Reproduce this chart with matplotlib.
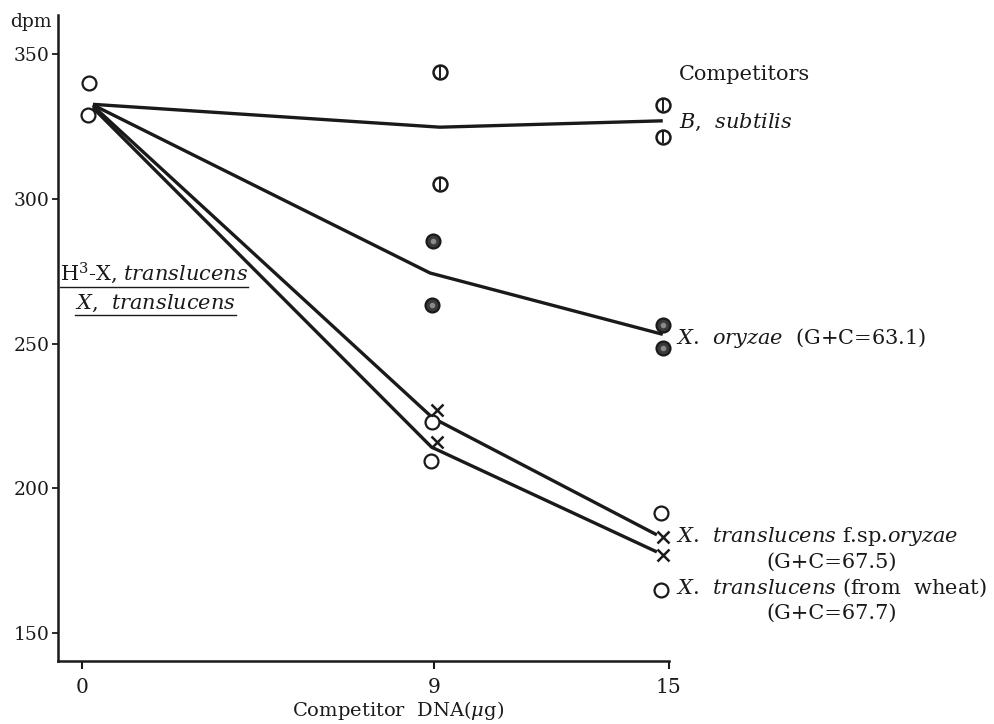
import matplotlib
matplotlib.use("Agg")
import matplotlib.pyplot as plt
from matplotlib.lines import Line2D

plt.rcParams["font.family"] = ["DejaVu Serif", "Liberation Serif"]
plt.rcParams["mathtext.fontset"] = "dejavuserif"

# values (dpm vs competitor DNA in ug)
x_ticks = [0, 9, 15]
y_ticks = [150, 200, 250, 300, 350]

control_x = [0.18, 0.15]
control_y = [340, 329]

subtilis_pts_x = [9.15, 9.15, 14.85, 14.85]
subtilis_pts_y = [344, 305, 332.5, 321.5]
subtilis_line_x = [0.28, 9.15, 14.85]
subtilis_line_y = [332.7, 324.8, 327.0]

oryzae_pts_x = [8.98, 8.95, 14.85, 14.85]
oryzae_pts_y = [285.5, 263.5, 256.5, 248.5]
oryzae_line_x = [0.28, 8.9, 14.85]
oryzae_line_y = [332.5, 274.4, 253.2]

fsp_pts_x = [9.08, 9.08, 14.86, 14.86]
fsp_pts_y = [227, 216, 183, 177]
fsp_line_x = [0.28, 8.97, 14.7]
fsp_line_y = [332.2, 224.3, 183.9]

wheat_pts_x = [8.95, 8.92, 14.8, 14.8]
wheat_pts_y = [223, 209.5, 191.5, 165]
wheat_line_x = [0.28, 8.94, 14.7]
wheat_line_y = [331.5, 214.2, 178.0]

ink = "#1a1a1a"

fig = plt.figure(figsize=(9.95, 7.24), dpi=100)
ax = fig.add_axes([0.058, 0.087, 0.614, 0.892])
ax.set_xlim(-0.62, 15)
ax.set_ylim(140.3, 363.5)

# lines
for lx, ly in [(subtilis_line_x, subtilis_line_y), (oryzae_line_x, oryzae_line_y),
               (fsp_line_x, fsp_line_y), (wheat_line_x, wheat_line_y)]:
    ax.plot(lx, ly, color=ink, lw=2.4, solid_capstyle="butt", zorder=2)

# open circles
ax.plot(control_x, control_y, "o", ms=10, mfc="white", mec=ink, mew=1.6,
        ls="none", zorder=3, clip_on=False)
ax.plot(wheat_pts_x, wheat_pts_y, "o", ms=10, mfc="white", mec=ink, mew=1.6,
        ls="none", zorder=3, clip_on=False)

# circles with a bar (B. subtilis)
ax.plot(subtilis_pts_x, subtilis_pts_y, "o", ms=10, mfc="white", mec=ink, mew=1.8,
        ls="none", zorder=3, clip_on=False)
ax.plot(subtilis_pts_x, subtilis_pts_y, "|", ms=9, mec=ink, mew=1.4,
        ls="none", zorder=4, clip_on=False)

# filled circles (X. oryzae)
ax.plot(oryzae_pts_x, oryzae_pts_y, "o", ms=10, mfc="#3a3a3a", mec=ink, mew=1.6,
        ls="none", zorder=3, clip_on=False)
ax.plot(oryzae_pts_x, oryzae_pts_y, "o", ms=4, mfc="#8a8a8a", mec="none",
        ls="none", zorder=4, clip_on=False)

# crosses
ax.plot(fsp_pts_x, fsp_pts_y, "x", ms=9, mec=ink, mew=1.8, ls="none",
        zorder=4, clip_on=False)

# axes styling
for s in ["top", "right"]:
    ax.spines[s].set_visible(False)
for s in ["left", "bottom"]:
    ax.spines[s].set_linewidth(1.8)
    ax.spines[s].set_color(ink)
ax.set_xticks(x_ticks)
ax.set_xticklabels(["0", "9", "15"])
ax.set_yticks(y_ticks)
ax.tick_params(axis="x", length=6, width=1.5, pad=6, labelsize=14.5, colors=ink)
ax.tick_params(axis="y", length=4, width=1.3, pad=2, labelsize=13.5, colors=ink)

ax.set_xlabel(r"Competitor  DNA($\mu$g)", fontsize=14, color=ink, va="center")
ax.xaxis.set_label_coords(0.557, -0.077)
fig.text(0.031, 0.969, "dpm", fontsize=13.5, ha="center", va="center", color=ink)

fs = 15
ax.text(15.26, 343.1, "Competitors", fontsize=fs, va="center", color=ink)
ax.text(15.26, 326.5, r"$B$,  $\mathit{subtilis}$", fontsize=fs, va="center", color=ink)
ax.text(15.18, 251.9, r"$X$.  $\mathit{oryzae}$  (G+C=63.1)", fontsize=fs,
        va="center", color=ink)
ax.text(15.2, 183.5, r"$X$.  $\mathit{translucens}$ f.sp.$\mathit{oryzae}$",
        fontsize=fs, va="center", color=ink)
ax.text(19.17, 174.5, "(G+C=67.5)", fontsize=fs, va="center", ha="center", color=ink)
ax.text(15.2, 165.5, r"$X$.  $\mathit{translucens}$ (from  wheat)",
        fontsize=fs, va="center", color=ink)
ax.text(19.17, 156.9, "(G+C=67.7)", fontsize=fs, va="center", ha="center", color=ink)

t1 = ax.text(-0.56, 274.4, r"H$^3$-X, $\mathit{translucens}$", fontsize=fs,
             va="center", color=ink)
t2 = ax.text(-0.18, 264.0, r"$X$,  $\mathit{translucens}$", fontsize=fs,
             va="center", color=ink)

# underline the two labels on the left
fig.canvas.draw()
inv = fig.transFigure.inverted()
for t in [t1, t2]:
    bb = t.get_window_extent()
    (x0, y0), (x1, _) = inv.transform([(bb.x0, bb.y0 - 1), (bb.x1, bb.y0 - 1)])
    fig.add_artist(Line2D([x0, x1], [y0, y0], color=ink, lw=1.0))

fig.savefig("out.png", dpi=100)
